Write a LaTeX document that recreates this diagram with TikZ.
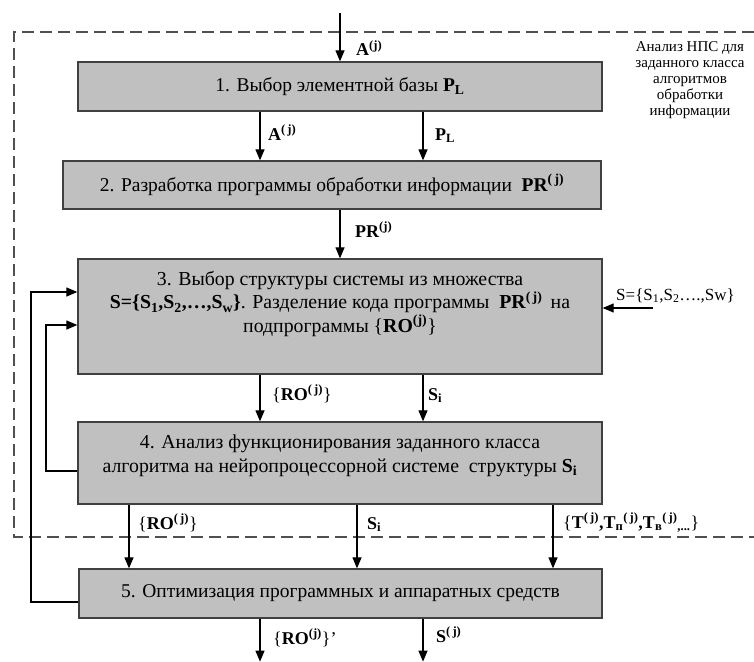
\documentclass[tikz,border=0pt]{standalone}
\usepackage{fontspec}
\setmainfont{Liberation Serif}
\usetikzlibrary{arrows.meta,calc}
\definecolor{boxfill}{HTML}{C0C0C0}
\definecolor{boxline}{HTML}{404040}
\definecolor{dashcol}{HTML}{505050}
\newcommand{\jsup}{\textsuperscript{(\,j)}}
\tikzset{
  box/.style={draw=boxline, fill=boxfill, line width=1.3pt, minimum width=524pt, minimum height=49pt, inner sep=0pt,
    font=\fontsize{19.5}{23.5}\selectfont, align=center},
  txt/.style={font=\fontsize{19.8}{23.5}\selectfont, align=center, inner sep=0pt},
  arr/.style={-{Triangle[length=11pt,width=9pt]}, line width=1.2pt},
  lab/.style={font=\fontsize{18}{21}\selectfont, inner sep=0pt, anchor=base west},
  frame/.style={dash pattern=on 12pt off 6pt, line width=1.8pt, draw=dashcol},
  note/.style={font=\fontsize{15}{16}\selectfont, align=center, inner sep=0pt},
}
\begin{document}
\begin{tikzpicture}[x=1pt,y=-1pt]
\useasboundingbox (0,0) rectangle (754,661);
% dashed frame
\coordinate (fa) at (754,32);
\coordinate (fb) at (14,32);
\coordinate (fc) at (14,537);
\coordinate (fd) at (754,537);
\draw[frame] (fa) -- (fb) -- (fc) -- (fd);
\node[note] (nt) at (690,80) {Анализ НПС для\\заданного класса\\алгоритмов\\обработки\\информации};

% boxes
\node[box] (b1) at (340,86.5) {1. Выбор элементной базы \textbf{P\textsubscript{L}}};
\node[box, minimum width=538pt, minimum height=48pt] (b2) at (332,185) {2. Разработка программы обработки информации \ \textbf{PR\jsup}};
\node[box, minimum height=115pt] (b3) at (340,316.5) {};
\node[txt] (t3) at (340,304) {3. Выбор структуры системы из множества\\
  \textbf{S=\{S\textsubscript{1},S\textsubscript{2},…,S\textsubscript{w}\}}. Разделение кода программы \ \textbf{PR\jsup} \,на\\
  подпрограммы \{\textbf{RO\textsuperscript{(j)}}\}};
\node[box, minimum height=82pt] (b4) at (340,463) {};
\node[txt] (t4) at (340,456) {4. Анализ функционирования заданного класса\\
  алгоритма на нейропроцессорной системе \ структуры \textbf{S\textsubscript{i}}};
\node[box, minimum width=523pt] (b5) at (340.5,593.5) {5. Оптимизация программных и аппаратных средств};

% top input
\coordinate (in) at (340,13);
\draw[arr] (in) -- (b1.north);
\node[lab] (l0) at (356,56) {\textbf{A\textsuperscript{(j)}}};

% 1 -> 2
\draw[arr] ([xshift=-80pt]b1.south) coordinate (p1) -- (p1 |- b2.north);
\draw[arr] ([xshift=83pt]b1.south) coordinate (p2) -- (p2 |- b2.north);
\node[lab] (l1) at (268,140) {\textbf{A\jsup}};
\node[lab] (l2) at (435,140) {\textbf{P\textsubscript{L}}};

% 2 -> 3
\draw[arr] (b2.south -| b3.north) -- (b3.north);
\node[lab] (l3) at (355,237) {\textbf{PR\textsuperscript{(j)}}};

% right input to 3
\coordinate (rin) at (653,308);
\draw[arr] (rin) -- (rin -| b3.east);
\node[lab, font=\fontsize{17}{20}\selectfont] (l4) at (616,300) {S=\{S\textsubscript{1},S\textsubscript{2}….,Sw\}};

% 3 -> 4
\draw[arr] ([xshift=-80pt]b3.south) coordinate (p3) -- (p3 |- b4.north);
\draw[arr] ([xshift=83pt]b3.south) coordinate (p4) -- (p4 |- b4.north);
\node[lab] (l5) at (272,400) {\{\textbf{RO\jsup}\}};
\node[lab] (l6) at (428,400) {\textbf{S\textsubscript{i}}};

% 4 -> 5
\draw[arr] ([xshift=-211pt]b4.south) coordinate (p5) -- (p5 |- b5.north);
\draw[arr] ([xshift=17pt]b4.south) coordinate (p6) -- (p6 |- b5.north);
\draw[arr] ([xshift=213pt]b4.south) coordinate (p7) -- (p7 |- b5.north);
\node[lab] (l7) at (138,529) {\{\textbf{RO\jsup}\}};
\node[lab] (l8) at (367,529) {\textbf{S\textsubscript{i}}};
\node[lab] (l9) at (563,528) {\{\textbf{T\jsup,T\textsubscript{п}\jsup,T\textsubscript{в}\jsup\textsubscript{,...}}\}};

% 5 -> out
\draw[arr] ([xshift=-80.5pt]b5.south) coordinate (p8) -- ++(0,43) coordinate (o1);
\draw[arr] ([xshift=82.5pt]b5.south) coordinate (p9) -- ++(0,43) coordinate (o2);
\node[lab] (l10) at (273,644) {\{\textbf{RO\textsuperscript{(j)}}\}'};
\node[lab] (l11) at (436,642) {\textbf{S\jsup}};

% feedback loops
\coordinate (fo) at (31,602);
\coordinate (fi) at (46,471);
\draw[arr] (fo -| b5.west) -- (fo) -- (fo |- 0,292) -- (b3.west |- 0,292);
\draw[arr] (fi -| b4.west) -- (fi) -- (fi |- 0,325) -- (b3.west |- 0,325);
\end{tikzpicture}
\end{document}
